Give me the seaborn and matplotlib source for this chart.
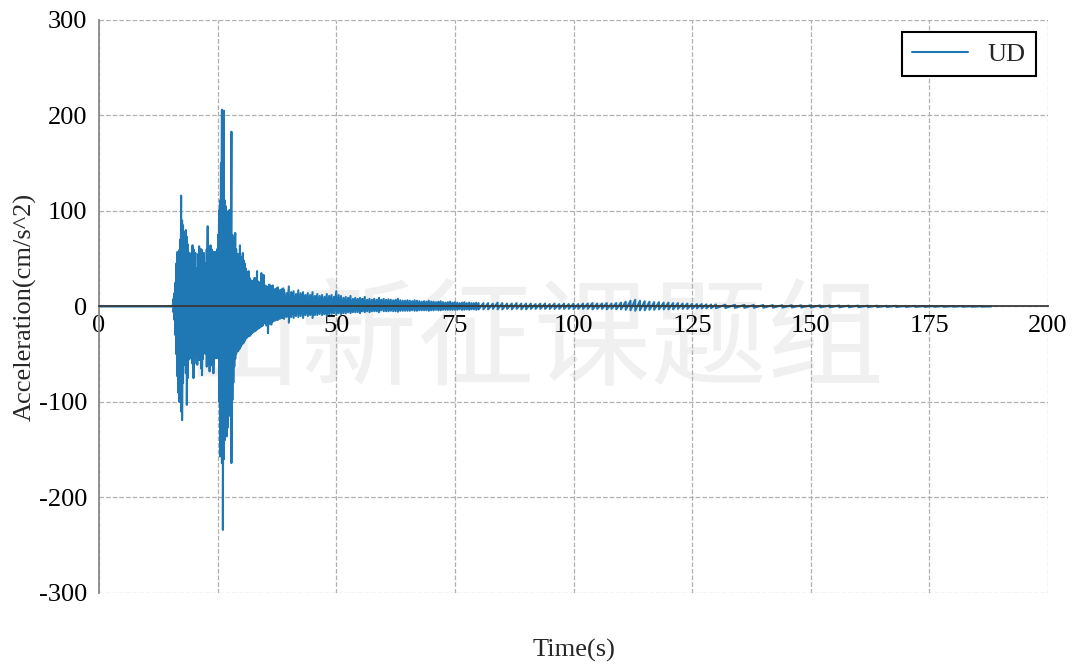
import numpy as np
import pandas as pd
import seaborn as sns
import matplotlib.pyplot as plt

# strong-motion part, knots (time s, upper peak, lower peak)
t_strong = [
    14.9, 15.5, 15.7, 15.9, 16.1, 16.3, 16.5, 16.7, 16.9, 17.1,
    17.3, 17.5, 17.7, 17.9, 18.1, 18.3, 18.5, 18.7, 18.9, 19.1,
    19.3, 19.5, 19.7, 19.9, 20.1, 20.3, 20.5, 20.7, 20.9, 21.1,
    21.3, 21.5, 21.7, 21.9, 22.1, 22.3, 22.5, 22.7, 22.9, 23.1,
    23.3, 23.5, 23.7, 23.9, 24.1, 24.3, 24.5, 24.7, 24.9, 25.1,
    25.3, 25.5, 25.7, 25.9, 26.1, 26.3, 26.5, 26.7, 26.9, 27.1,
    27.3, 27.5, 27.7, 27.9, 28.1, 28.3, 28.5, 28.7, 28.9, 29.1,
    29.3, 29.5, 29.7, 29.9, 30.1, 30.3, 30.5, 30.7, 30.9, 31.1,
    31.3, 31.5, 31.7, 31.9, 32.2, 32.5, 32.8, 33.1, 33.3, 33.6,
    33.9, 34.2, 34.5, 34.7, 35.0, 35.3, 35.6, 35.9, 36.3, 36.6,
    37.0, 37.4, 37.7, 38.1, 38.5, 38.8
]
up_strong = [
    0, 0, 8, 14, 25, 45, 57, 50, 59, 70,
    116, 90, 85, 78, 75, 80, 73, 65, 56, 56,
    54, 50, 64, 60, 56, 56, 40, 31, 55, 63,
    58, 60, 59, 56, 56, 45, 42, 60, 84, 55,
    42, 64, 60, 55, 57, 57, 57, 35, 60, 75,
    101, 111, 150, 206, 180, 205, 111, 105, 100, 98,
    95, 101, 90, 183, 75, 70, 72, 77, 60, 52,
    55, 50, 64, 52, 50, 56, 48, 45, 40, 35,
    34, 37, 30, 28, 26, 27, 30, 28, 37, 26,
    24, 35, 28, 33, 22, 21, 20, 23, 21, 22,
    18, 19, 20, 17, 18, 19
]
dn_strong = [
    0, 0, -6, -14, -30, -50, -73, -90, -100, -95,
    -110, -119, -80, -59, -61, -70, -103, -75, -56, -50,
    -51, -55, -60, -75, -60, -45, -35, -61, -50, -56,
    -56, -65, -72, -55, -49, -44, -50, -63, -60, -55,
    -68, -56, -58, -62, -70, -55, -52, -54, -54, -54,
    -100, -157, -150, -164, -234, -160, -140, -130, -136, -127,
    -115, -108, -110, -164, -98, -80, -63, -55, -50, -45,
    -47, -45, -44, -42, -40, -39, -38, -36, -34, -33,
    -32, -31, -31, -30, -28, -27, -26, -25, -24, -23,
    -22, -21, -20, -18, -17, -20, -28, -18, -19, -16,
    -15, -14, -14, -13, -12, -12
]

# coda 39-80 s, every 0.5 s
t_coda1 = np.arange(39.0, 80.5, 0.5)
up_coda1 = [
    17, 14, 21, 15, 16, 13, 17, 14,
    15, 12, 14, 12, 15, 11, 13, 11, 12, 10,
    13, 11, 12, 10, 16, 12, 11, 9, 10, 9,
    11, 8, 9, 8, 9, 8, 10, 7, 8, 7,
    8, 7, 9, 7, 8,
    7, 7.5, 7, 6.5, 7, 8, 6.5, 6, 6, 6.5,
    6, 5.5, 6.5, 6, 5.5, 5, 5.5, 5, 6, 5,
    5, 4.5, 5, 5.5, 4.5, 4, 4.5, 5, 4, 4.5,
    4, 3.5, 4, 4.5, 3.5, 4, 3.5, 3.5, 4, 3.5
]
dn_coda1 = [
    -13, -11, -17, -11, -12, -10, -11, -10,
    -12, -9, -10, -9, -12, -9, -9, -8, -9, -8,
    -10, -8, -8, -7, -9, -7, -8, -7, -7, -6,
    -7, -6, -6, -6, -7, -5, -6, -5, -6, -5,
    -5, -5, -6, -4, -5,
    -5, -5, -4.5, -5, -5, -5.5, -4.5, -4.5, -4.5, -4.5,
    -4.5, -4, -4.5, -4.5, -4, -4, -4, -4, -4.5, -4,
    -4, -3.5, -4, -4, -3.5, -3.5, -3.5, -3.5, -3.5, -3.5,
    -3.5, -3, -3.5, -3.5, -3, -3.5, -3, -3, -3.5, -3
]

# coda 81-130 s, every 1 s
t_coda2 = np.arange(81, 131, 1)
up_coda2 = [
    3.5, 3.5, 3, 4, 3.5, 3, 3, 3.5, 3, 3,
    3, 2.5, 3, 3, 2.5, 3, 2.5, 3, 2.5, 3,
    2.5, 3, 3, 3.5, 3, 3, 3.5, 3, 3.5, 4,
    5, 6, 7, 6, 5.5, 5, 4.5, 4.5, 4, 4,
    3.5, 3.5, 3, 3, 2.8, 2.5, 2.5, 2.2, 2, 2
]
dn_coda2 = [
    -3, -3, -2.5, -3, -3, -2.5, -3, -2.5, -3, -3,
    -2.5, -2.5, -2.5, -2.5, -2.5, -2.5, -2.5, -2.5, -2.5, -2.8,
    -2.5, -2.5, -2.5, -3, -2.5, -2.5, -3, -2.5, -3, -3,
    -3.5, -4, -4.5, -4, -4, -3.5, -3.5, -3, -3, -3,
    -3, -2.5, -2.5, -2.5, -2.5, -2, -2, -2, -1.8, -1.8
]

# tail 132-188 s, every 2 s
t_tail = np.arange(132, 190, 2)
up_tail = [
    1.8, 1.7, 1.6, 1.5, 1.5, 1.4, 1.3, 1.3, 1.2, 1.2,
    1.1, 1.0, 1.0, 0.9, 0.9, 0.8, 0.8, 0.7, 0.7, 0.6,
    0.6, 0.5, 0.5, 0.5, 0.4, 0.4, 0.3, 0.3, 0
]
dn_tail = [
    -1.6, -1.5, -1.4, -1.4, -1.3, -1.2, -1.2, -1.1, -1.1, -1.0,
    -1.0, -0.9, -0.9, -0.8, -0.8, -0.7, -0.7, -0.6, -0.6, -0.5,
    -0.5, -0.5, -0.4, -0.4, -0.3, -0.3, -0.3, -0.2, 0
]

t_knot = np.concatenate([[0.0], t_strong, t_coda1, t_coda2, t_tail])
acc_up = np.concatenate([[0.0], up_strong, up_coda1, up_coda2, up_tail])
acc_dn = np.concatenate([[0.0], dn_strong, dn_coda1, dn_coda2, dn_tail])

# zigzag record: upper then lower peak at each knot
df = pd.DataFrame({
    "time": np.repeat(t_knot, 2),
    "acc": np.column_stack([acc_up, acc_dn]).ravel(),
    "comp": "UD"
})

sns.set_style("white")
plt.rcParams["font.family"] = ["Liberation Serif", "DejaVu Serif"]
plt.rcParams["axes.unicode_minus"] = False

fig = plt.figure(figsize=(10.8, 6.72), dpi=100)
ax = fig.add_axes([0.0917, 0.1176, 0.8787, 0.8527])

ax.text(
    0.495, 0.488, "山新征课题组",
    transform=fig.transFigure,
    family=["Noto Sans CJK SC", "DejaVu Sans"],
    fontsize=84, color="#f0f0f0", weight="light",
    ha="center", va="center", zorder=0
)

sns.lineplot(
    data=df, x="time", y="acc",
    hue="comp", palette=["#1f77b4"],
    estimator=None, sort=False, units="comp",
    linewidth=1.5, ax=ax, zorder=1
)

ax.set_xlim(0, 200)
ax.set_ylim(-300, 300)
ax.set_xticks([0, 25, 50, 75, 100, 125, 150, 175, 200])
ax.set_yticks([-300, -200, -100, 0, 100, 200, 300])

ax.grid(True, linestyle="--", color="#b0b0b0", linewidth=0.9)
ax.set_axisbelow(True)

ax.spines["bottom"].set_position(("data", 0))
ax.spines["bottom"].set_color("#3a3a3a")
ax.spines["bottom"].set_linewidth(1.3)
ax.spines["left"].set_color("#8a8a8a")
ax.spines["left"].set_linewidth(1.3)
ax.spines["top"].set_visible(False)
ax.spines["right"].set_visible(False)

ax.tick_params(axis="both", labelsize=19, direction="out", length=5,
               width=1, colors="#8a8a8a", labelcolor="black")
ax.tick_params(axis="x", length=4, pad=2)

ax.set_xlabel("Time(s)", fontsize=19)
ax.set_ylabel("Acceleration(cm/s^2)", fontsize=19)
ax.xaxis.set_label_coords(0.5, -0.08)
ax.yaxis.set_label_coords(-0.066, 0.5)

leg = ax.legend(
    loc="upper right", fontsize=19, frameon=True, fancybox=False,
    framealpha=1, edgecolor="black", handlelength=2.1,
    borderpad=0.4, handletextpad=0.75, borderaxespad=0.45
)
leg.get_frame().set_linewidth(1.5)

plt.savefig("out.png", dpi=100)
